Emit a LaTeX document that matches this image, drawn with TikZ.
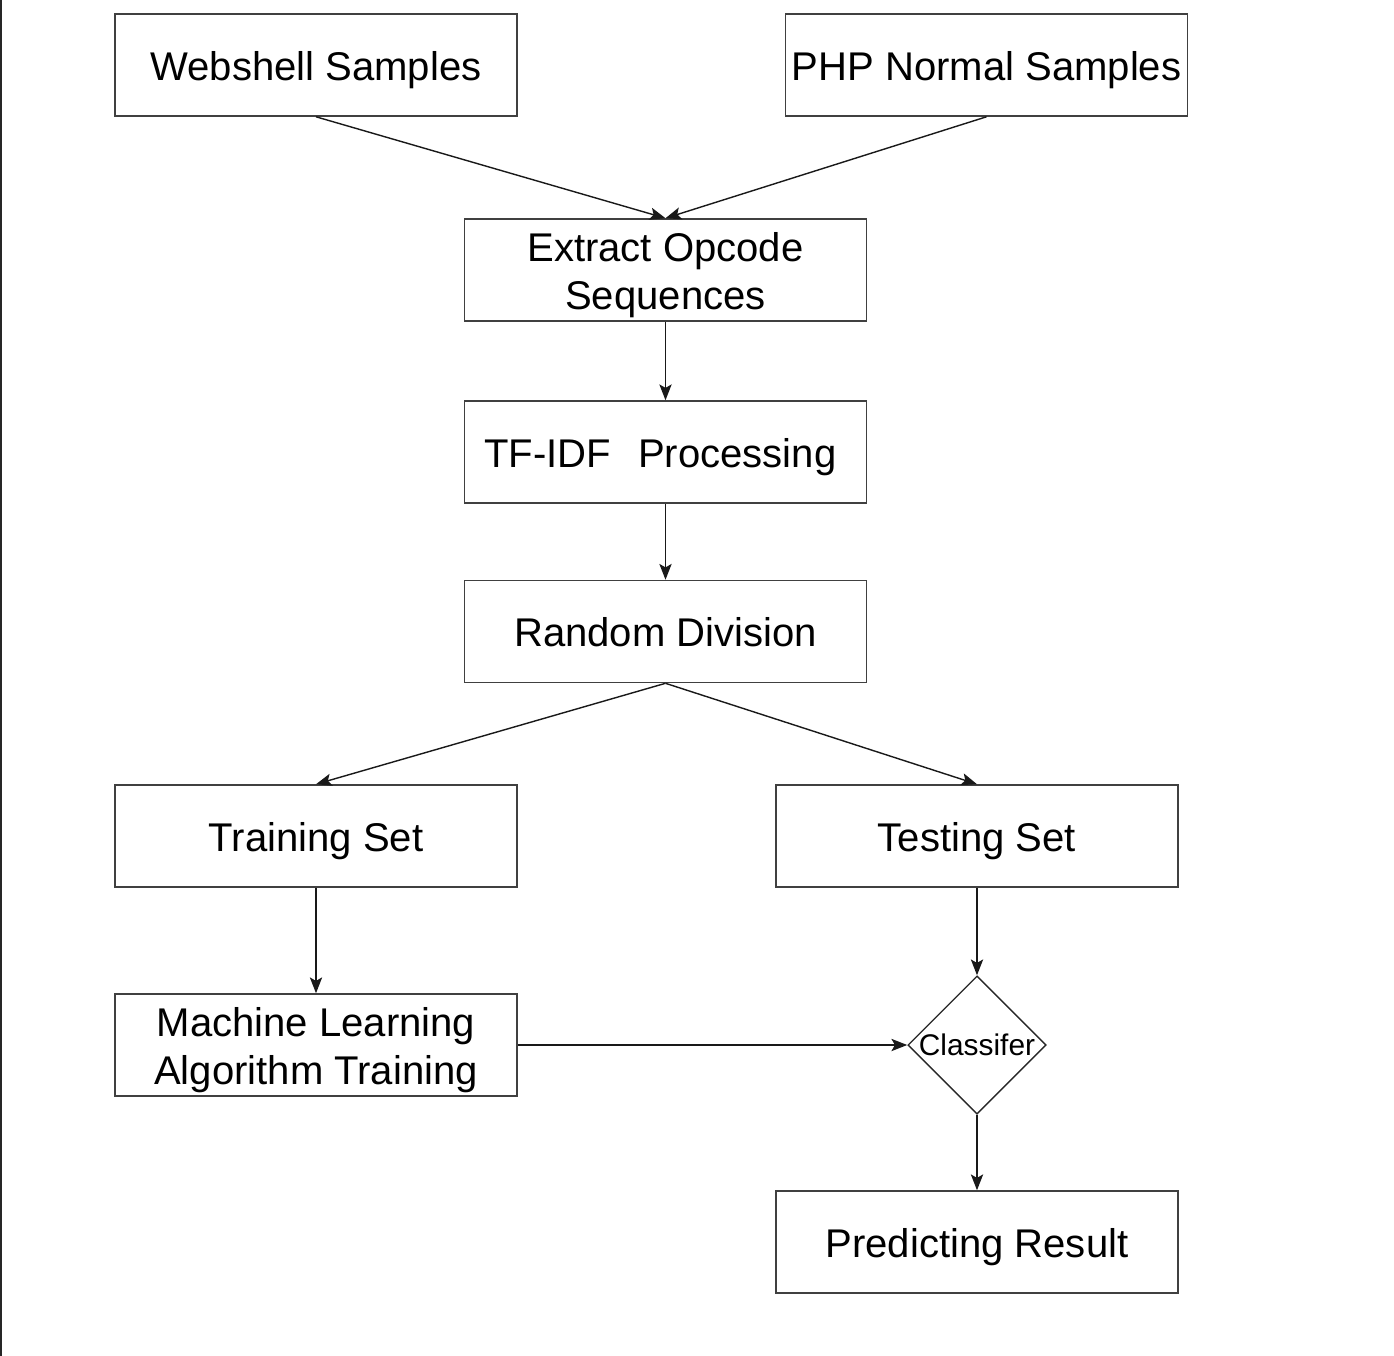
\documentclass[tikz,border=0pt]{standalone}
\usepackage{fontspec}
\setmainfont{Liberation Sans}
\usetikzlibrary{shapes.geometric,arrows.meta}
\begin{document}
\begin{tikzpicture}[x=0.02cm,y=-0.02cm,
  box/.style={draw=black!75,line width=0.9pt,minimum width=402*0.02cm,minimum height=102*0.02cm,inner sep=0pt,align=center,font=\fontsize{22.8}{27.2}\selectfont},
  box1/.style={box,text height=17.5pt,text depth=0pt},
  dia/.style={draw=black!85,line width=0.8pt,diamond,minimum width=135*0.02cm,minimum height=135*0.02cm,inner sep=0pt,font=\fontsize{17}{20}\selectfont},
  conn/.style={line width=0.8pt,draw=black!90,-{Stealth[length=9pt,width=7pt,inset=2pt]}}]
\useasboundingbox (0,0) rectangle (1394,1356);
\fill[black!85] (0,0) rectangle (2,1356);
\node[box1] (ws) at (316,65) {Webshell Samples};
\node[box1] (php) at (986.5,65) {PHP Normal Samples};
\node[box] (ext) at (665.5,270) {\rule{0pt}{22.5pt}Extract Opcode\\Sequences};
\node[box1] (tf) at (665.5,452) {TF-IDF\hspace{15.5pt}Processing\hspace{6pt}};
\node[box1] (rd) at (665.5,631.5) {Random Division};
\node[box1] (tr) at (316,836) {Training Set};
\node[box1] (te) at (977,836) {Testing Set};
\node[box] (ml) at (316,1045) {\rule{0pt}{22.5pt}Machine Learning\\Algorithm Training};
\node[dia] (cl) at (977,1045) {Classifer};
\node[box1] (pr) at (977,1242) {Predicting Result};
\draw[conn] (ws.south) -- (ext.north);
\draw[conn] (php.south) -- (ext.north);
\draw[conn] (ext) -- (tf);
\draw[conn] (tf) -- (rd);
\draw[conn] (rd.south) -- (tr.north);
\draw[conn] (rd.south) -- (te.north);
\draw[conn] (tr) -- (ml);
\draw[conn] (te) -- (cl);
\draw[conn] (ml) -- (cl);
\draw[conn] (cl) -- (pr);
\end{tikzpicture}
\end{document}
